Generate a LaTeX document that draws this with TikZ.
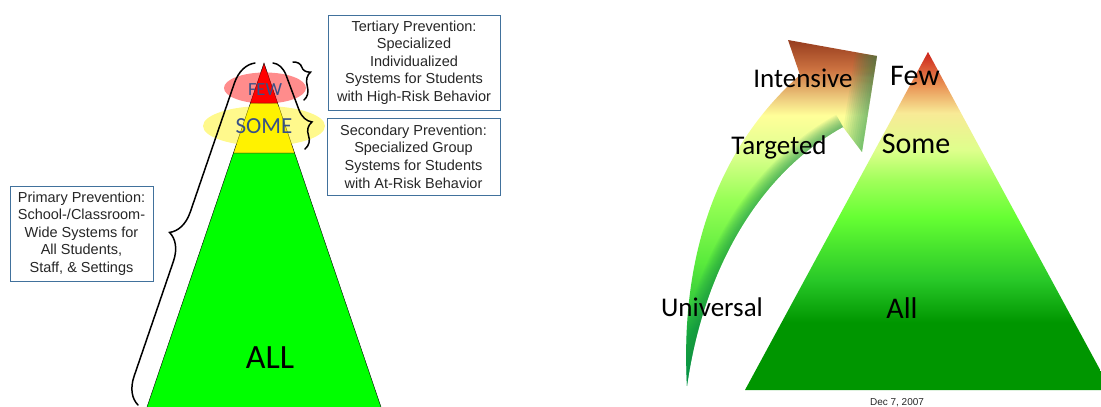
\documentclass[tikz,border=0pt]{standalone}
\usepackage{fontspec}
\setmainfont{Liberation Sans}
\newfontfamily\calfont{Carlito}
\usepackage{tikz}
\usetikzlibrary{decorations.pathreplacing,shapes.geometric}

\definecolor{boxline}{RGB}{65,113,156}
\definecolor{boxtext}{RGB}{38,38,38}
\definecolor{tiertext}{RGB}{55,80,135}

% colours of the shaded pyramid
\definecolor{tg2}{RGB}{204,34,26}
\definecolor{tg3}{RGB}{232,140,80}
\definecolor{tg4}{RGB}{248,234,150}
\definecolor{tg5}{RGB}{222,255,140}
\definecolor{tg6}{RGB}{160,255,90}
\definecolor{tg7}{RGB}{102,255,51}
\definecolor{tg8}{RGB}{40,200,40}
\definecolor{tg9}{RGB}{0,150,0}
\pgfdeclareverticalshading{pyrshade}{100bp}{color(0bp)=(tg9); color(35bp)=(tg9); color(41.3bp)=(tg8); color(50.6bp)=(tg7); color(56bp)=(tg6); color(60.5bp)=(tg5); color(66bp)=(tg4); color(70.4bp)=(tg3); color(75bp)=(tg2); color(100bp)=(tg2)}

% colours of the shaded arrow
\definecolor{ar1}{RGB}{150,60,30}
\definecolor{ar2}{RGB}{205,115,65}
\definecolor{ar3}{RGB}{240,210,130}
\definecolor{ar4}{RGB}{255,255,153}
\definecolor{ar5}{RGB}{225,255,145}
\definecolor{ar6}{RGB}{150,255,85}
\definecolor{ar7}{RGB}{90,235,60}
\definecolor{ar8}{RGB}{30,180,60}
\definecolor{ar9}{RGB}{0,160,70}
\definecolor{arinner}{RGB}{20,140,80}
\pgfdeclareverticalshading{arrshade}{100bp}{color(0bp)=(ar9); color(25bp)=(ar9); color(33bp)=(ar8); color(43bp)=(ar7); color(51.8bp)=(ar6); color(59bp)=(ar5); color(64.1bp)=(ar4); color(66.3bp)=(ar3); color(70.7bp)=(ar2); color(75bp)=(ar1); color(100bp)=(ar1)}

\tikzset{
  infobox/.style={draw=boxline, line width=0.8pt, text=boxtext, align=center, inner sep=0pt, font=\fontsize{14.5}{17.6}\selectfont},
  bracebig/.style={decorate, line width=1.5pt, line cap=round},
  lvl/.style={draw=black, line width=0.4pt},
  tiertxt/.style={text=tiertext, anchor=base},
  stagetxt/.style={font=\calfont\fontsize{27}{30}\selectfont, anchor=base},
  pyrtxt/.style={font=\calfont\fontsize{30}{34}\selectfont, anchor=base}
}

\begin{document}
\begin{tikzpicture}[x=1pt,y=-1pt,>=latex]
  \useasboundingbox (0,0) rectangle (1101,407);

  \begin{scope}
  % left pyramid
  \coordinate (p0) at (264,63);
  \coordinate (p1l) at (250.4,103);   \coordinate (p1r) at (277.6,103);
  \coordinate (p2l) at (233.4,153);   \coordinate (p2r) at (294.6,153);
  \coordinate (p3l) at (146,410);     \coordinate (p3r) at (382,410);

  \filldraw[lvl, fill={rgb,255:red,0;green,255;blue,0}] (p2l) -- (p2r) -- (p3r) -- (p3l) -- cycle;
  \filldraw[lvl, fill=yellow] (p1l) -- (p1r) -- (p2r) -- (p2l) -- cycle;
  \filldraw[lvl, fill=red] (p0) -- (p1r) -- (p1l) -- cycle;

  \node[ellipse, fill=red, fill opacity=0.45, minimum width=82pt, minimum height=31pt, inner sep=0pt] (few_e) at (265,88) {};
  \node[ellipse, fill=yellow, fill opacity=0.45, minimum width=122pt, minimum height=40pt, inner sep=0pt] (some_e) at (264,126) {};

  \node[tiertxt, font=\calfont\fontsize{18.5}{20}\selectfont] (few_t) at (265,95) {FEW};
  \node[tiertxt, font=\calfont\fontsize{23}{25}\selectfont] (some_t) at (264,133) {SOME};
  \node[anchor=base, font=\calfont\fontsize{34}{38}\selectfont] (all_t) at (270,368) {ALL};

  % braces
  \coordinate (bb_b) at (138,405);  \coordinate (bb_t) at (255,63);
  \coordinate (sb_t) at (273,63);   \coordinate (sb_b) at (305,149);
  \coordinate (fb_t) at (293,62);   \coordinate (fb_b) at (304,100);
  \draw[bracebig, decoration={brace, amplitude=26pt, aspect=0.48}] (bb_b) -- (bb_t);
  \draw[bracebig, decoration={brace, amplitude=16pt, aspect=0.75}] (sb_t) -- (sb_b);
  \draw[bracebig, decoration={brace, amplitude=14pt, aspect=0.37}] (fb_t) -- (fb_b);

  % text boxes
  \node[infobox, minimum width=172pt, minimum height=95pt] (tert) at (414,62.5)
      {Tertiary Prevention:\\Specialized\\Individualized\\Systems for Students\\with High-Risk Behavior};
  \node[infobox, minimum width=173pt, minimum height=77pt] (sec) at (413.5,156.5)
      {Secondary Prevention:\\Specialized Group\\Systems for Students\\with At-Risk Behavior};
  \node[infobox, minimum width=143pt, minimum height=95pt] (prim) at (81.5,233.5)
      {Primary Prevention:\\School-/Classroom-\\Wide Systems for\\All Students,\\Staff, \& Settings};
  \end{scope}

  \begin{scope}
  % right pyramid and arrow
  \coordinate (q0) at (928,52);
  \coordinate (q1) at (745,390);
  \coordinate (q2) at (1111,390);
  \shade[shading=pyrshade] (q0) -- (q2) -- (q1) -- cycle;

  \coordinate (a0) at (687,386);
  \coordinate (a1) at (800,75);
  \coordinate (a2) at (788,40);
  \coordinate (a3) at (877,56);
  \coordinate (a4) at (862,152);
  \coordinate (a5) at (843,127);
  \shade[shading=arrshade] (a0) .. controls (680,260) and (715,150) .. (a1) -- (a2) -- (a3) -- (a4) -- (a5)
      .. controls (765,170) and (705,260) .. (a0) -- cycle;
  % darker band along the inner edge and the head
  \begin{scope}
    \clip (a0) .. controls (680,260) and (715,150) .. (a1) -- (a2) -- (a3) -- (a4) -- (a5)
        .. controls (765,170) and (705,260) .. (a0) -- cycle;
    \foreach \w in {2,4,...,28}
      \draw[arinner, opacity=0.055, line width=\w pt] (a5) .. controls (765,170) and (705,260) .. (a0);
    \foreach \w in {4,8,...,44}
      \draw[arinner, opacity=0.06, line width=\w pt] (a3) -- (a4);
  \end{scope}

  \node[stagetxt] (int_t) at (803,87) {Intensive};
  \node[stagetxt] (tar_t) at (779,154) {Targeted};
  \node[stagetxt] (uni_t) at (712,316) {Universal};
  \node[pyrtxt] (few_r) at (915,85) {Few};
  \node[pyrtxt] (some_r) at (916,153) {Some};
  \node[pyrtxt] (all_r) at (902,318) {All};

  \node[anchor=base, text=boxtext, font=\fontsize{10}{12}\selectfont] (date_t) at (897,405) {Dec 7, 2007};
  \end{scope}
\end{tikzpicture}
\end{document}
